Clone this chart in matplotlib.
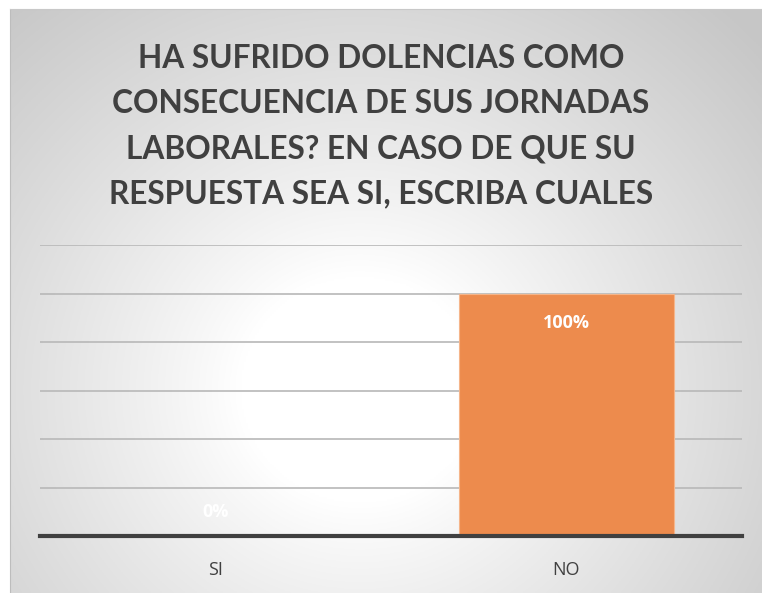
import matplotlib.pyplot as plt
import numpy as np

# Data
categories = ["SI", "NO"]
values = [0.0, 1.0]
value_labels = ["0%", "100%"]
title = "HA SUFRIDO DOLENCIAS COMO\nCONSECUENCIA DE SUS JORNADAS\nLABORALES? EN CASO DE QUE SU\nRESPUESTA SEA SI, ESCRIBA CUALES"

W, H = 762, 593
fig = plt.figure(figsize=(W / 100, H / 100), dpi=100)
fig.patch.set_facecolor("white")

# Chart area background with radial gradient
x0, y0 = 10, 9
bg = fig.add_axes([x0 / W, 0, 1 - x0 / W, 1 - y0 / H])
ny, nx = 300, 400
yy, xx = np.mgrid[0:ny, 0:nx]
px = x0 + xx / (nx - 1) * (W - x0)
py = y0 + yy / (ny - 1) * (H - y0)
r = np.hypot(px - 360, (py - 390) * 1.05)
t = np.clip((r - 120) / 420, 0, 1) ** 0.9
shade = 1.0 - t * (1.0 - 0.78)
bg.imshow(np.dstack([shade, shade, shade]), aspect="auto", extent=[0, 1, 0, 1], origin="upper")
bg.set_xlim(0, 1)
bg.set_ylim(0, 1)
for s in ["bottom", "right"]:
    bg.spines[s].set_visible(False)
bg.spines["left"].set_color("#bdbdbd")
bg.spines["top"].set_color("#c8c8c8")
bg.set_xticks([])
bg.set_yticks([])

# Plot area
left, right, top, bottom = 40, 742, 245, 536
ax = fig.add_axes([left / W, 1 - bottom / H, (right - left) / W, (bottom - top) / H])
ax.patch.set_alpha(0)
x = np.arange(len(categories))
ax.bar(x, values, width=0.61, color="#ED8B4D", edgecolor="#F5B58A", linewidth=0.8, zorder=3)
ax.set_ylim(0, 1.2)
ax.set_xlim(-0.5, len(categories) - 0.5)
ax.set_yticks(np.arange(0.2, 1.21, 0.2))
ax.yaxis.grid(True, color="#b8b8b8", linewidth=1.2)
ax.tick_params(axis="y", length=0, labelleft=False)
ax.tick_params(axis="x", length=0, pad=18)
ax.set_xticks(x)
ax.set_xticklabels(categories, fontsize=13, color="#404040", family="Open Sans")
for s in ["top", "left", "right"]:
    ax.spines[s].set_visible(False)
ax.spines["bottom"].set_color("#404040")
ax.spines["bottom"].set_linewidth(3)
ax.spines["bottom"].set_zorder(4)

for xi, v, lab in zip(x, values, value_labels):
    ax.text(xi, v - 0.12 if v > 0.1 else v + 0.1, lab, ha="center", va="center",
            fontsize=13, fontweight="bold", color="white", family="Open Sans", zorder=5)

fig.text(0.5, 1 - 126 / H, title, ha="center", va="center", fontsize=22.8,
         fontweight="bold", color="#404040", family="Lato",
         linespacing=1.67)

fig.savefig("out.png", dpi=100)
